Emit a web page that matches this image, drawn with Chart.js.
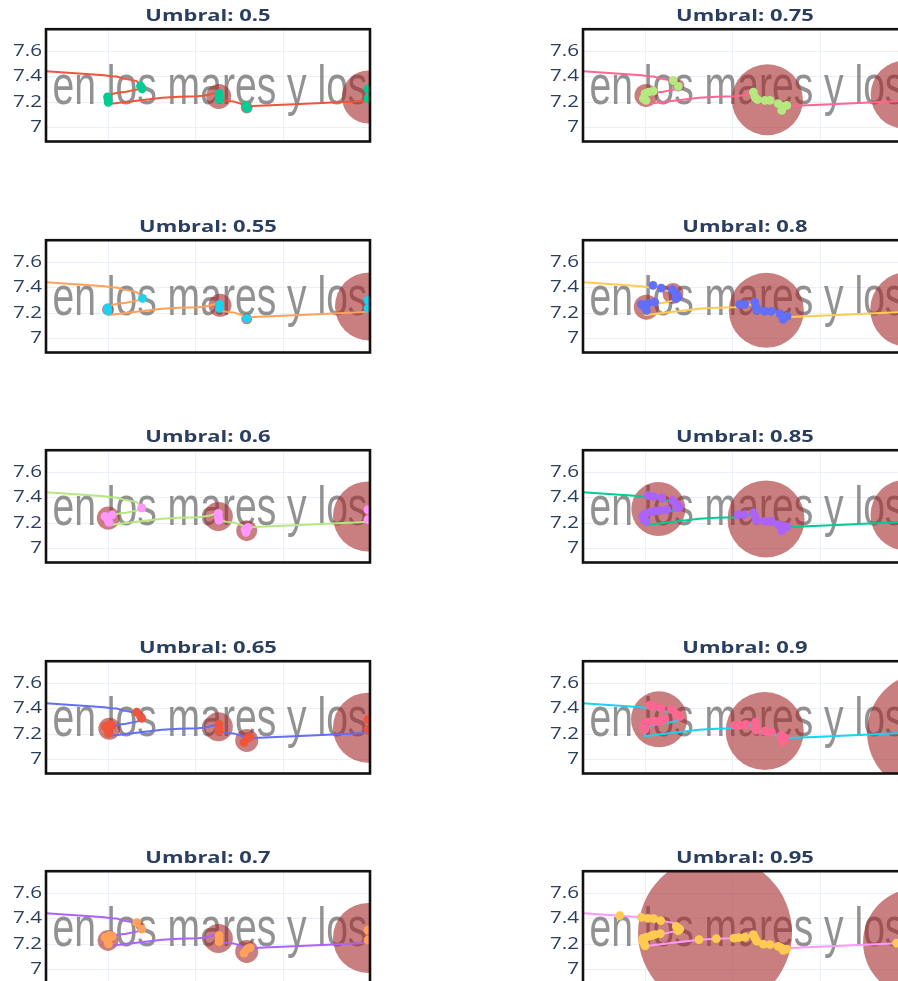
<!DOCTYPE html>
<html>
<head>
<meta charset="utf-8">
<script src="https://cdn.jsdelivr.net/npm/chart.js@4/dist/chart.umd.min.js"></script>
<style>
  html, body { margin: 0; padding: 0; background: #fff; overflow: hidden; }
  #grid { position: relative; width: 898px; height: 981px; overflow: hidden; }
  #grid canvas { position: absolute; }
</style>
</head>
<body>
<div id="grid"></div>
<script>
// Thresholds, one panel each (left column first, then right column)
const thresholds = ['0.5', '0.55', '0.6', '0.65', '0.7', '0.75', '0.8', '0.85', '0.9', '0.95'];

// Full track drawn as a line in every panel
const trackX = [0.2, 0.711, 0.958, 1.034, 1.099, 1.179, 1.32, 1.383, 1.392, 1.366, 1.206, 1.111, 1.057, 1.015, 0.977, 0.971, 0.989, 1.0, 1.034, 1.617, 1.815, 2.025, 2.082, 2.151, 2.242, 2.261, 2.277, 2.36, 2.434, 2.526, 2.566, 2.581, 2.619, 2.657, 3.194, 3.877, 4.051, 4.223];
const trackY = [7.449, 7.425, 7.412, 7.404, 7.402, 7.386, 7.369, 7.333, 7.314, 7.306, 7.284, 7.276, 7.268, 7.257, 7.247, 7.231, 7.208, 7.188, 7.19, 7.237, 7.245, 7.249, 7.253, 7.26, 7.278, 7.249, 7.224, 7.212, 7.208, 7.188, 7.173, 7.149, 7.165, 7.171, 7.187, 7.21, 7.216, 7.224];

// Stop points per threshold: [x, y]
const stops050 = [[0.994,7.243],[1.0,7.22],[1.003,7.2],[1.371,7.329],[1.389,7.306],[2.269,7.271],[2.269,7.247],[2.272,7.224],[2.577,7.176],[2.589,7.153],[3.971,7.306],[3.971,7.231]];
const stops055 = [[0.994,7.243],[1.0,7.22],[1.394,7.318],[2.274,7.271],[2.274,7.239],[2.585,7.161],[3.971,7.302],[3.971,7.239]];
const stops060 = [[0.966,7.255],[1.0,7.224],[1.046,7.267],[1.011,7.208],[1.385,7.321],[2.261,7.278],[2.261,7.247],[2.269,7.224],[2.566,7.153],[2.6,7.169],[2.577,7.129],[3.971,7.307],[3.971,7.229]];
const stops065 = [[0.966,7.263],[1.023,7.278],[1.0,7.226],[1.046,7.267],[1.006,7.208],[1.328,7.375],[1.385,7.325],[2.269,7.278],[2.269,7.247],[2.269,7.226],[2.554,7.137],[2.589,7.169],[2.623,7.18],[3.971,7.318],[3.971,7.239]];
const stops070 = [[0.966,7.255],[1.023,7.27],[1.0,7.22],[1.046,7.262],[1.006,7.204],[1.328,7.37],[1.385,7.32],[2.269,7.27],[2.269,7.24],[2.269,7.22],[2.554,7.132],[2.589,7.164],[2.623,7.175],[3.971,7.312],[3.971,7.234]];
const stops075 = [[0.981,7.229],[1.0,7.268],[1.038,7.281],[1.095,7.289],[1.011,7.216],[1.323,7.373],[1.381,7.325],[2.238,7.281],[2.257,7.242],[2.283,7.221],[2.371,7.216],[2.429,7.216],[2.523,7.19],[2.581,7.169],[2.619,7.176],[2.562,7.137],[3.971,7.306],[3.971,7.231]];
const stops080 = [[1.091,7.42],[1.186,7.398],[1.312,7.386],[1.358,7.355],[1.377,7.328],[1.351,7.315],[0.958,7.271],[0.997,7.249],[1.034,7.281],[1.111,7.289],[1.015,7.224],[2.082,7.271],[2.139,7.271],[2.254,7.289],[2.272,7.249],[2.28,7.224],[2.368,7.218],[2.443,7.216],[2.539,7.198],[2.577,7.153],[2.623,7.176],[3.971,7.306],[3.971,7.231]];
const stops085 = [[1.038,7.417],[1.095,7.412],[1.191,7.399],[1.317,7.378],[1.369,7.347],[1.392,7.329],[1.362,7.321],[1.248,7.307],[1.171,7.302],[1.114,7.297],[1.057,7.289],[1.0,7.276],[0.974,7.255],[0.989,7.229],[1.011,7.216],[2.066,7.268],[2.131,7.268],[2.238,7.282],[2.257,7.255],[2.277,7.224],[2.371,7.216],[2.437,7.216],[2.523,7.19],[2.581,7.176],[2.619,7.172],[2.562,7.143],[3.971,7.306],[3.971,7.231]];
const stops090 = [[1.054,7.427],[1.099,7.422],[1.186,7.402],[1.301,7.396],[1.358,7.357],[1.397,7.339],[1.225,7.318],[1.175,7.304],[1.111,7.304],[1.034,7.296],[0.977,7.278],[1.008,7.257],[0.997,7.239],[2.025,7.271],[2.082,7.271],[2.151,7.278],[2.265,7.296],[2.254,7.253],[2.272,7.234],[2.368,7.226],[2.443,7.218],[2.558,7.192],[2.597,7.174],[2.569,7.147],[3.971,7.306],[3.971,7.231]];
const stops095 = [[0.711,7.425],[0.958,7.412],[1.034,7.404],[1.099,7.402],[1.179,7.386],[1.358,7.341],[1.397,7.32],[1.377,7.307],[1.175,7.284],[1.111,7.276],[1.072,7.268],[1.015,7.257],[0.977,7.247],[0.971,7.227],[0.989,7.208],[1.0,7.188],[1.617,7.237],[1.815,7.245],[2.017,7.249],[2.074,7.253],[2.143,7.257],[2.238,7.276],[2.257,7.249],[2.277,7.224],[2.352,7.202],[2.429,7.198],[2.523,7.184],[2.562,7.171],[2.619,7.163],[2.581,7.153],[3.877,7.21],[3.971,7.306],[3.971,7.231]];

// Cluster centres per threshold: [x, y, marker size]
const clusters050 = [[1.0,7.224,8],[1.383,7.318,8],[2.265,7.247,25],[2.585,7.16,12],[3.976,7.242,53]];
const clusters055 = [[1.0,7.231,12],[1.394,7.318,8],[2.28,7.263,23],[2.585,7.158,11],[3.983,7.255,68]];
const clusters060 = [[1.003,7.242,23],[1.385,7.321,8],[2.261,7.255,29],[2.585,7.143,21],[3.971,7.255,70]];
const clusters065 = [[1.015,7.245,22],[1.37,7.34,9],[2.261,7.26,29],[2.585,7.153,23],[3.971,7.253,70]];
const clusters070 = [[1.0,7.231,21],[1.37,7.34,9],[2.261,7.247,29],[2.585,7.145,23],[3.971,7.25,70]];
const clusters075 = [[1.011,7.255,23],[1.381,7.333,12],[2.398,7.221,71],[3.968,7.261,68]];
const clusters080 = [[1.015,7.249,25],[1.32,7.355,21],[2.386,7.224,75],[4.003,7.231,75]];
const clusters085 = [[1.152,7.313,54],[2.383,7.235,77],[3.983,7.266,71]];
const clusters090 = [[1.16,7.318,56],[2.368,7.226,78],[4.223,7.216,120]];
const clusters095 = [[1.8,7.292,154],[4.109,7.216,108]];

const stopSets = [stops050, stops055, stops060, stops065, stops070, stops075, stops080, stops085, stops090, stops095];
const clusterSets = [clusters050, clusters055, clusters060, clusters065, clusters070, clusters075, clusters080, clusters085, clusters090, clusters095];

// Axis ticks
const xTicks = [1, 2, 3];
const yTicks = [7, 7.2, 7.4, 7.6];
const yTickLabels = ['7', '7.2', '7.4', '7.6'];

const lineColors = ['#EF553B', '#FFA15A', '#B6E880', '#636EFA', '#AB63FA', '#FF6692', '#FECB52', '#00CC96', '#19D3F3', '#FF97FF'];
const markerColors = ['#00CC96', '#19D3F3', '#FF97FF', '#EF553B', '#FFA15A', '#B6E880', '#636EFA', '#AB63FA', '#FF6692', '#FECB52'];
const backdropText = 'en los mares y los';

const TEXT_COLOR = '#2a3f5f';
const WIDE = 1.33; // horizontal stretch of the label lettering

// Grey lettering behind the traces
const backdrop = {
  id: 'backdrop',
  beforeDatasetsDraw(chart) {
    const { ctx, chartArea: a } = chart;
    ctx.save();
    ctx.beginPath();
    ctx.rect(a.left, a.top, a.width, a.height);
    ctx.clip();
    ctx.font = '52px "Liberation Sans", Arial, sans-serif';
    const w = ctx.measureText(backdropText).width;
    const sx = (a.width * 0.972) / w;
    ctx.translate(a.left + a.width * 0.02, a.top + a.height * 0.665);
    ctx.scale(sx, 1.05);
    ctx.filter = 'blur(0.5px)';
    ctx.fillStyle = 'rgba(100,100,100,0.7)';
    ctx.textBaseline = 'alphabetic';
    ctx.fillText(backdropText, 0, 0);
    ctx.restore();
  }
};

// Frame, y tick labels and panel title
function decorations(titleText) {
  return {
    id: 'decorations',
    afterDraw(chart) {
      const { ctx, chartArea: a, scales } = chart;
      ctx.save();
      ctx.strokeStyle = '#111';
      ctx.lineWidth = 2.6;
      ctx.strokeRect(a.left, a.top, a.width, a.height);

      ctx.fillStyle = TEXT_COLOR;
      ctx.textAlign = 'right';
      ctx.textBaseline = 'middle';
      ctx.font = '15.5px "Open Sans", sans-serif';
      yTicks.forEach((v, k) => {
        ctx.save();
        ctx.translate(a.left - 4, scales.y.getPixelForValue(v));
        ctx.scale(WIDE, 1);
        ctx.fillText(yTickLabels[k], 0, 0);
        ctx.restore();
      });

      ctx.textAlign = 'center';
      ctx.font = 'bold 16.5px "Open Sans", sans-serif';
      ctx.translate((a.left + a.right) / 2, a.top - 13);
      ctx.scale(WIDE, 1);
      ctx.fillText(titleText, 0, 0);
      ctx.restore();
    }
  };
}

const grid = document.getElementById('grid');

thresholds.forEach((thr, i) => {
  const col = i < 5 ? 0 : 1;
  const row = i % 5;
  const canvas = document.createElement('canvas');
  canvas.width = 416;
  canvas.height = 160;
  canvas.style.left = (col ? 537 : 0) + 'px';
  canvas.style.top = Math.round(row * 210.5) + 'px';
  canvas.style.width = '416px';
  canvas.style.height = '160px';
  grid.appendChild(canvas);

  const track = trackX.map((x, k) => ({ x, y: trackY[k] }));
  const stops = stopSets[i].map(p => ({ x: p[0], y: p[1] }));
  const clusters = clusterSets[i].map(c => ({ x: c[0], y: c[1], r: c[2] / 2 }));

  new Chart(canvas.getContext('2d'), {
    type: 'scatter',
    data: {
      datasets: [
        { type: 'scatter', data: stops, backgroundColor: markerColors[i], pointRadius: 4.4, pointBorderWidth: 0, pointHoverRadius: 4.4, order: 1, clip: 0 },
        { type: 'scatter', data: track, showLine: true, borderColor: lineColors[i], borderWidth: 2, pointRadius: 0, pointHoverRadius: 0, tension: 0, fill: false, order: 2, clip: 0 },
        { type: 'bubble', data: clusters, backgroundColor: 'rgba(165,42,42,0.6)', borderWidth: 0, hoverRadius: 0, order: 3, clip: 0 }
      ]
    },
    options: {
      responsive: false,
      animation: false,
      devicePixelRatio: 1,
      events: [],
      layout: { autoPadding: false, padding: { left: 0, right: 46, top: 29.2, bottom: 18.5 } },
      plugins: {
        legend: { display: false },
        tooltip: { enabled: false },
        title: { display: false }
      },
      scales: {
        x: {
          type: 'linear',
          min: 0.291,
          max: 3.994,
          afterBuildTicks: s => { s.ticks = xTicks.map(v => ({ value: v })); },
          afterFit: s => { s.height = 0; },
          ticks: { display: false },
          grid: { color: '#ebf0f8', lineWidth: 1, drawTicks: false },
          border: { display: false }
        },
        y: {
          type: 'linear',
          min: 6.894,
          max: 7.773,
          afterBuildTicks: s => { s.ticks = yTicks.map(v => ({ value: v })); },
          afterFit: s => { s.width = 46; },
          ticks: { display: false },
          grid: { color: '#ebf0f8', lineWidth: 1, drawTicks: false },
          border: { display: false }
        }
      }
    },
    plugins: [backdrop, decorations('Umbral: ' + thr)]
  });
});
</script>
</body>
</html>
